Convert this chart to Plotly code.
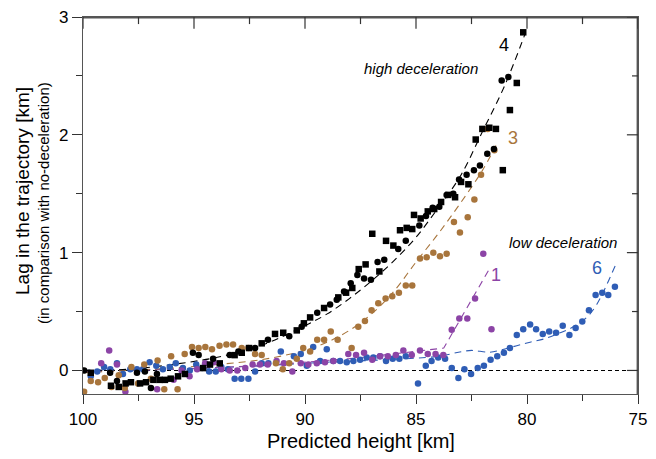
import plotly.graph_objects as go

# ---------------- data ----------------
# Event 4 (black) - squares
s4_sq_h = [99.65, 98.74, 98.39, 98.08, 97.84, 97.43, 97.16, 96.83, 96.55, 96.31, 96.05, 95.72, 95.41,
           94.59, 94.28, 93.84, 93.17, 92.85, 92.52, 91.95, 91.35, 90.98, 90.37, 90.05, 89.77, 89.14,
           88.50, 88.15, 87.87, 87.58, 87.27, 86.97, 86.65, 86.35, 86.02, 85.72, 85.42, 85.17, 85.09,
           84.79, 84.47, 84.18, 83.87, 83.55, 83.24, 82.97, 82.64, 82.31, 82.01, 81.70, 81.40, 81.09,
           80.77, 80.46, 80.17]
s4_sq_v = [-0.02, -0.13, -0.14, -0.11, -0.10, -0.11, -0.10, -0.08, -0.08, -0.08, -0.07, -0.05, -0.03,
           0.02, 0.05, 0.06, 0.13, 0.15, 0.19, 0.23, 0.31, 0.32, 0.34, 0.40, 0.45, 0.53,
           0.62, 0.66, 0.70, 0.86, 0.90, 1.16, 0.84, 1.10, 1.06, 1.19, 1.21, 1.20, 1.32,
           1.29, 1.35, 1.37, 1.43, 1.49, 1.47, 1.60, 1.58, 1.96, 2.05, 2.06, 2.05, 1.70,
           2.21, 2.44, 2.87]
# Event 4 (black) - circles
s4_ci_h = [99.95, 98.78, 98.47, 97.57, 97.21, 96.94, 96.67, 95.05, 94.79, 94.14, 93.39, 93.00, 92.25,
           91.67, 90.71, 90.15, 89.45, 88.87, 88.57, 88.24, 87.94, 87.64, 87.34, 87.03, 86.73, 86.43,
           85.80, 85.46, 84.85, 84.55, 84.25, 83.95, 83.62, 83.32, 83.06, 82.72, 82.39, 82.12, 81.79,
           81.49, 81.14, 80.84]
s4_ci_v = [0.00, -0.02, -0.09, -0.02, -0.01, -0.15, -0.03, 0.15, 0.13, 0.10, 0.13, 0.16, 0.19,
           0.26, 0.29, 0.37, 0.49, 0.56, 0.60, 0.67, 0.74, 0.81, 0.78, 0.77, 0.92, 0.94,
           1.03, 1.10, 1.23, 1.31, 1.38, 1.39, 1.49, 1.50, 1.62, 1.66, 1.70, 1.74, 1.84,
           1.88, 2.46, 2.49]
s4_fit_h = [100, 98, 96, 94, 92, 90, 89, 88, 87, 86, 85, 84, 83, 82, 81, 80.1]
s4_fit_v = [0.0, 0.01, 0.05, 0.11, 0.21, 0.38, 0.48, 0.61, 0.76, 0.93, 1.13, 1.38, 1.65, 2.03, 2.42, 2.85]

# Event 3 (brown)
s3_h = [99.95, 99.65, 99.32, 99.02, 98.72, 98.39, 98.12, 97.82, 97.52, 97.24, 96.94, 96.64, 96.34,
        96.03, 95.74, 95.42, 95.09, 94.79, 94.49, 94.19, 93.85, 93.54, 93.24, 92.85, 92.55, 92.25,
        91.95, 91.31, 91.00, 90.71, 90.37, 90.08, 89.77, 89.45, 89.14, 88.84, 88.53, 87.90, 87.60,
        87.30, 87.00, 86.70, 86.37, 86.07, 85.77, 85.46, 85.17, 84.82, 84.52, 84.22, 83.92, 83.62,
        83.29, 83.02, 82.67, 82.37, 82.07, 81.77, 81.47]
s3_v = [-0.18, -0.09, -0.10, -0.065, -0.14, -0.04, -0.15, 0.03, -0.11, 0.05, -0.07, 0.085, -0.16,
        0.12, -0.16, 0.14, 0.20, 0.19, 0.20, 0.18, 0.21, 0.22, 0.22, 0.19, 0.19, 0.14,
        0.13, 0.06, 0.01, 0.06, 0.10, 0.19, 0.16, 0.26, 0.26, 0.33, 0.26, 0.19, 0.37,
        0.42, 0.51, 0.57, 0.61, 0.63, 0.66, 0.72, 0.72, 0.95, 0.96, 1.00, 0.97, 0.99,
        1.26, 1.17, 1.30, 1.45, 1.66, 2.05, 1.87]
s3_fit_h = [100, 98, 96, 94, 92, 90, 89, 88, 87, 86, 85, 84, 83, 82, 81.4]
s3_fit_v = [-0.02, 0.0, 0.02, 0.05, 0.09, 0.17, 0.24, 0.34, 0.48, 0.67, 0.92, 1.16, 1.42, 1.70, 1.91]

# Event 1 (purple)
s1_h = [99.18, 98.82, 98.47, 98.09, 97.75, 97.37, 97.03, 96.66, 96.29, 95.92, 95.56, 95.20, 94.86,
        94.50, 94.12, 93.77, 93.39, 93.05, 92.69, 92.36, 92.03, 91.68, 91.28, 90.95, 90.57, 90.19,
        89.85, 89.47, 89.10, 88.72, 88.05, 87.70, 87.34, 86.97, 86.62, 86.27, 85.91, 85.57, 85.19,
        84.82, 84.47, 84.12, 83.77, 83.39, 83.05, 82.69, 82.34, 81.97, 81.60]
s1_v = [0.06, 0.17, 0.05, -0.18, -0.25, -0.31, -0.29, -0.16, -0.33, -0.08, 0.0, -0.05, 0.01,
        0.06, 0.07, 0.01, 0.0, 0.0, 0.02, 0.05, 0.05, 0.05, 0.08, 0.06, -0.01, 0.06,
        0.05, 0.06, 0.07, 0.08, 0.14, 0.13, 0.15, 0.09, 0.12, 0.12, 0.13, 0.17, 0.13,
        0.17, 0.14, 0.14, 0.13, 0.345, 0.44, 0.44, 0.61, 0.99, 0.35]
s1_fit_h = [100, 96, 92, 90, 88, 86, 84.5, 83.75, 81.67]
s1_fit_v = [-0.01, 0.01, 0.04, 0.07, 0.10, 0.14, 0.17, 0.19, 0.87]

# Event 6 (blue)
s6_h = [99.65, 99.36, 99.05, 98.77, 98.47, 98.20, 97.87, 97.57, 97.30, 97.00, 96.70, 96.40, 96.09,
        95.82, 95.50, 95.19, 94.90, 94.63, 94.32, 94.02, 93.77, 93.47, 93.17, 92.87, 92.55, 92.25,
        91.95, 91.65, 91.09, 90.50, 90.19, 89.92, 89.63, 89.32, 89.02, 88.73, 88.42, 88.12, 87.82,
        87.52, 87.22, 86.92, 86.62, 86.35, 86.05, 85.75, 85.46, 84.91, 84.56, 84.30, 84.00, 83.69,
        83.39, 83.09, 82.82, 82.52, 82.22, 81.94, 81.64, 81.34, 81.04, 80.77, 80.46, 80.17, 79.86,
        79.59, 79.29, 79.00, 78.69, 78.39, 78.09, 77.81, 77.51, 77.21, 76.91, 76.61, 76.34, 76.04]
s6_v = [-0.05, -0.01, 0.03, 0.01, 0.06, -0.03, 0.01, 0.01, 0.01, 0.07, 0.04, 0.01, 0.03,
        0.06, 0.02, 0.0, 0.05, 0.02, -0.01, -0.01, 0.03, 0.01, -0.07, -0.07, -0.07, -0.01,
        0.06, 0.06, 0.16, 0.12, 0.14, 0.04, 0.20, 0.08, 0.18, 0.08, 0.08, 0.07, 0.08,
        0.09, 0.11, 0.11, 0.12, 0.08, 0.10, 0.10, 0.12, -0.11, 0.04, 0.08, 0.11, 0.10,
        0.02, -0.065, 0.01, -0.03, 0.02, 0.04, 0.09, 0.12, 0.15, 0.19, 0.30, 0.35, 0.39,
        0.35, 0.31, 0.33, 0.32, 0.38, 0.30, 0.36, 0.415, 0.51, 0.64, 0.66, 0.64, 0.71]
s6_fit_h = [100, 96, 92, 89, 86.5, 84, 82.94, 82.49, 81.67, 81.14, 80.46, 79.86, 79.19, 78.44, 77.91, 77.31, 76.86, 76.0]
s6_fit_v = [0.0, 0.01, 0.04, 0.07, 0.09, 0.12, 0.16, 0.17, 0.155, 0.175, 0.21, 0.24, 0.27, 0.325, 0.37, 0.45, 0.56, 0.90]

x_ticks = [100, 95, 90, 85, 80, 75]
x_minor = [97.5, 92.5, 87.5, 82.5, 77.5]
y_ticks = [0, 1, 2, 3]
y_minor = [0.5, 1.5, 2.5]
x_range = [100, 75]
y_range = [-0.2, 3]

# ---------------- style ----------------
BLACK = "#000000"
BROWN = "#A8753C"
PURPLE = "#8C44A6"
BLUE = "#2F5DB5"
FONT = "Arial, Liberation Sans, sans-serif"
DASH = "7px,5px"
axis_col = "#555555"
TC = "#333333"

fig = go.Figure()

def fit(h, v, color, shape="spline"):
    fig.add_trace(go.Scatter(x=h, y=v, mode="lines", line=dict(color=color, width=1.1, dash=DASH, shape=shape),
                             hoverinfo="skip", showlegend=False))

def pts(h, v, color, symbol="circle", size=6.5):
    fig.add_trace(go.Scatter(x=h, y=v, mode="markers", showlegend=False,
                             marker=dict(color=color, size=size, symbol=symbol, line=dict(width=0))))

fit(s6_fit_h, s6_fit_v, BLUE)
fit(s1_fit_h, s1_fit_v, PURPLE, shape="linear")
fit(s3_fit_h, s3_fit_v, BROWN)
fit(s4_fit_h, s4_fit_v, BLACK)

pts(s6_h, s6_v, BLUE)
pts(s1_h, s1_v, PURPLE)
pts(s3_h, s3_v, BROWN)
pts(s4_sq_h, s4_sq_v, BLACK, symbol="square", size=6.5)
pts(s4_ci_h, s4_ci_v, BLACK)

# zero reference line
fig.add_shape(type="line", xref="paper", x0=0, x1=1, yref="y", y0=0, y1=0,
              line=dict(color="black", width=1.1, dash="4px,3px"), layer="below")

# top / right frame and their inward ticks, built from the axis ranges and tick lists
top, bottom = y_range[1], y_range[0]
left, right = x_range[0], x_range[1]
frame_x = [left, right, right]
frame_y = [top, top, bottom]
fig.add_trace(go.Scatter(x=frame_x, y=frame_y, mode="lines", line=dict(color=axis_col, width=2.8),
                         hoverinfo="skip", showlegend=False, cliponaxis=False))
tick_x, tick_y = [], []
for v in x_ticks + x_minor:
    L = 0.10 if v in x_ticks else 0.06
    tick_x += [v, v, None]
    tick_y += [top, top - L, None]
for v in y_ticks + y_minor:
    L = 0.50 if v in y_ticks else 0.27
    tick_x += [right, right + L, None]
    tick_y += [v, v, None]
fig.add_trace(go.Scatter(x=tick_x, y=tick_y, mode="lines", line=dict(color=TC, width=1.2),
                         hoverinfo="skip", showlegend=False, connectgaps=False))

common = dict(showgrid=False, zeroline=False, showline=True, linecolor=axis_col, linewidth=1.4,
              mirror=True, tickcolor=TC, tickwidth=1.2, automargin=False, ticklabeloverflow="allow",
              tickfont=dict(size=17))

# page body has an 8px margin: figure is 648x451 so the plot lands at page x 83..638, y 17..394
fig.update_layout(
    template="none",
    width=648, height=451,
    margin=dict(l=75, r=18, t=9, b=65, autoexpand=False),
    paper_bgcolor="white", plot_bgcolor="white",
    font=dict(family=FONT, color="black", size=16),
    xaxis=dict(range=x_range, tickvals=x_ticks, ticks="outside", ticklen=9,
               minor=dict(tickvals=x_minor, ticks="outside", ticklen=6, tickcolor=TC, tickwidth=1.2),
               **common),
    yaxis=dict(range=y_range, tickvals=y_ticks, ticks="outside", ticklen=10,
               minor=dict(tickvals=y_minor, ticks="outside", ticklen=6, tickcolor=TC, tickwidth=1.2),
               **common),
)

ann = [
    dict(text="<i>high deceleration</i>", x=84.77, y=2.56, size=15, color="black"),
    dict(text="<i>low deceleration</i>", x=78.38, y=1.09, size=15, color="black"),
    dict(text="4", x=81.04, y=2.76, size=18, color=BLACK),
    dict(text="3", x=80.65, y=1.97, size=18, color=BROWN),
    dict(text="1", x=81.40, y=0.81, size=18, color=PURPLE),
    dict(text="6", x=76.83, y=0.87, size=18, color=BLUE),
]
for a in ann:
    fig.add_annotation(x=a["x"], y=a["y"], xref="x", yref="y", text=a["text"], showarrow=False,
                       font=dict(size=a["size"], color=a["color"], family=FONT), xanchor="center", yanchor="middle")

# axis titles as annotations
fig.add_annotation(text="Predicted height [km]", xref="paper", yref="paper", x=0.5, y=-0.124,
                   showarrow=False, font=dict(size=20, family=FONT), xanchor="center", yanchor="middle")
fig.add_annotation(text="Lag in the trajectory [km]", xref="paper", yref="paper", x=(22 - 83) / 555,
                   y=(394 - 191) / 377, textangle=-90, showarrow=False, font=dict(size=19, family=FONT),
                   xanchor="center", yanchor="middle")
fig.add_annotation(text="(in comparison with no-deceleration)", xref="paper", yref="paper", x=(43 - 83) / 555,
                   y=(394 - 203) / 377, textangle=-90, showarrow=False, font=dict(size=15, family=FONT),
                   xanchor="center", yanchor="middle")

fig.write_html("out.html")
